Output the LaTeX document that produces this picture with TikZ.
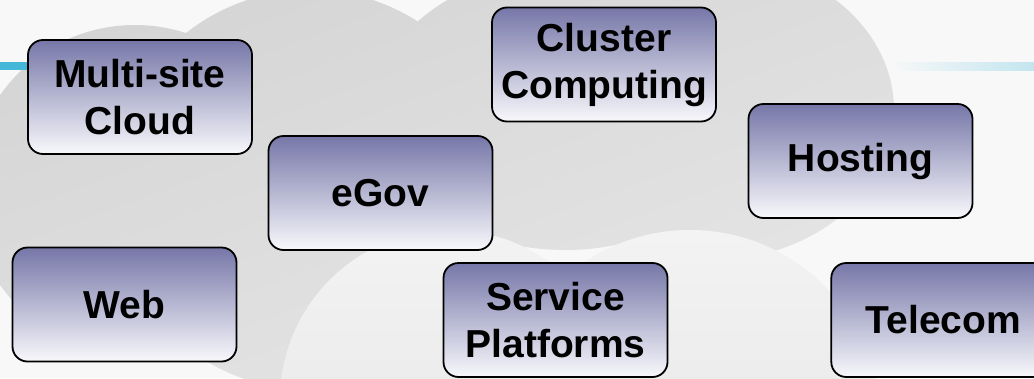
\documentclass[tikz,border=0pt]{standalone}
\usepackage{fontspec}
\setmainfont{Liberation Sans}
\usepackage{xcolor}
\usepackage{tikz}
\usetikzlibrary{positioning}

\definecolor{boxtop}{HTML}{7677A8}
\definecolor{boxbot}{HTML}{F8F8FC}
\definecolor{paper}{HTML}{F8F8F8}
\definecolor{pufftop}{HTML}{D4D4D4}
\definecolor{puffbot}{HTML}{E6E6E6}
\definecolor{lobetop}{HTML}{F3F3F3}
\definecolor{lobebot}{HTML}{E2E2E2}
\definecolor{lineblue}{HTML}{45B7D8}
\definecolor{linepale}{HTML}{C3E5EF}

\begin{document}
\begin{tikzpicture}[x=1pt,y=-1pt,semithick]
  \tikzstyle{box}=[draw=black,line width=1.8pt,rounded corners=15pt,top color=boxtop,bottom color=boxbot,minimum width=224pt,minimum height=114pt,inner sep=0pt,align=center,font=\bfseries\fontsize{39}{47}\selectfont]
  \tikzstyle{puff}=[top color=pufftop,bottom color=puffbot,shading angle=20]
  \tikzstyle{lobe}=[top color=lobetop,bottom color=lobebot]

  \useasboundingbox (0,0) rectangle (1034,378);
  \clip (0,0) rectangle (1034,378);
  \fill[paper] (0,0) rectangle (1034,378);

  % the grey cloud behind
  \shade[puff]	(135,190) circle (165pt)
		(310,190) circle (200pt)
		(565,110) ellipse (190pt and 140pt)
		(712,110) ellipse (182pt and 150pt);
  \shade[lobe]	(450,400) circle (170pt)
		(690,420) circle (190pt);

  % the blue rule
  \fill[lineblue]	(0,62) rectangle (40,70);
  \shade[left color=paper,right color=linepale]	(890,62) rectangle (1034,70);

  \node[box]	(MC)	at (140,97)		{Multi-site\\Cloud};
  \node[box]	(W)	at (124.5,304.5)	{Web};
  \node[box]	(G)	at (380.5,193)		{eGov};
  \node[box]	(CC)	at (604,64.5)		{Cluster\\Computing};
  \node[box]	(H)	at (860.5,161)		{Hosting};
  \node[box]	(SP)	at (555.5,320)		{Service\\Platforms};
  \node[box]	(T)	[right=162pt of SP]	{Telecom};
\end{tikzpicture}
\end{document}
